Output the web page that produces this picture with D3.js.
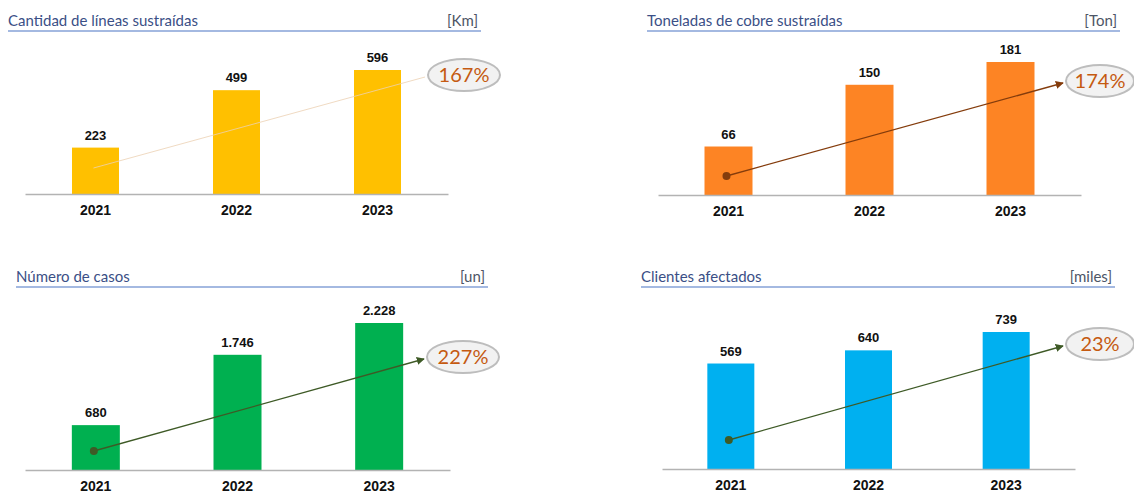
<!DOCTYPE html>
<html>
  <head>
    <meta charset="utf-8">
    <script src="https://d3js.org/d3.v7.min.js"></script>
    <style>
      body { margin: 0; background: white; }
      .title { font-family: Lato, "Open Sans", sans-serif; font-size: 15px; fill: #3b4f86; }
      .unit { font-family: Lato, "Open Sans", sans-serif; font-size: 15px; fill: #4d5566; }
      .val { font-family: "Liberation Sans", Arial, sans-serif; font-size: 13px; font-weight: bold; fill: #111; }
      .axis text { font-family: "Liberation Sans", Arial, sans-serif; font-size: 14px; font-weight: bold; fill: #111; }
      .pct { font-family: Lato, "Open Sans", sans-serif; font-size: 20px; fill: #c55a11; }
    </style>
  </head>
  <body>
    <script>
      // data
      var years = ["2021", "2022", "2023"];
      var titles = ["Cantidad de líneas sustraídas", "Toneladas de cobre sustraídas", "Número de casos", "Clientes afectados"];
      var units = ["[Km]", "[Ton]", "[un]", "[miles]"];
      var lineasKm = [223, 499, 596];
      var cobreTon = [66, 150, 181];
      var casosUn = [680, 1746, 2228];
      var clientesMiles = [569, 640, 739];
      var growth = ["167%", "174%", "227%", "23%"];
      var barColors = ["#ffc000", "#fd8424", "#00b050", "#00b0f0"];
      var arrowColors = ["#edd2b4", "#843c0c", "#3e5a26", "#3e5a26"];

      // layout of each small chart
      var layout = [
        {values: lineasKm, tx: 8, ty: 26, ul: [8, 481], x0: 25, x1: 448, base: 194, top: 70, bw: 47,
         ell: [464, 75, 36, 16], start: 26, arrow: false},
        {values: cobreTon, tx: 647, ty: 26, ul: [647, 1120], x0: 658, x1: 1081, base: 195, top: 62, bw: 48,
         ell: [1100, 81, 34, 16], start: 19, arrow: true},
        {values: casosUn, tx: 16, ty: 282, ul: [16, 488], x0: 25, x1: 450, base: 470, top: 323, bw: 48,
         ell: [463, 357, 36, 16], start: 19, arrow: true},
        {values: clientesMiles, tx: 641, ty: 282, ul: [641, 1115], x0: 662, x1: 1075, base: 469, top: 332, bw: 47,
         ell: [1100, 344, 34, 16], start: 29, arrow: true}
      ];

      var fmt = d3.formatLocale({decimal: ",", thousands: ".", grouping: [3], currency: ["$", ""]}).format(",d");

      var svg = d3.select("body").append("svg")
        .attr("width", 1134)
        .attr("height", 494);

      var defs = svg.append("defs");

      layout.forEach(function(p, i) {
        var g = svg.append("g");

        // title + underline
        g.append("text").attr("class", "title").attr("x", p.tx).attr("y", p.ty).text(titles[i]);
        g.append("text").attr("class", "unit").attr("x", p.ul[1] - 3).attr("y", p.ty)
          .attr("text-anchor", "end").text(units[i]);
        g.append("line")
          .attr("x1", p.ul[0]).attr("x2", p.ul[1])
          .attr("y1", p.ty + 5).attr("y2", p.ty + 5)
          .attr("stroke", "#4a74c4").attr("stroke-width", 1.2);

        var step = (p.x1 - p.x0) / years.length;
        var inner = 1 - p.bw / step;
        var x = d3.scaleBand().domain(years).range([p.x0, p.x1])
          .paddingInner(inner).paddingOuter(inner / 2);
        var y = d3.scaleLinear().domain([0, d3.max(p.values)]).range([p.base, p.top]);

        g.selectAll("rect.bar")
          .data(p.values)
          .enter().append("rect")
            .attr("class", "bar")
            .attr("x", function(d, j) { return x(years[j]); })
            .attr("y", function(d) { return y(d); })
            .attr("width", x.bandwidth())
            .attr("height", function(d) { return p.base - y(d); })
            .attr("fill", barColors[i]);

        g.selectAll("text.val")
          .data(p.values)
          .enter().append("text")
            .attr("class", "val")
            .attr("x", function(d, j) { return x(years[j]) + x.bandwidth() / 2; })
            .attr("y", function(d) { return y(d) - 8; })
            .attr("text-anchor", "middle")
            .text(function(d) { return fmt(d); });

        var axis = g.append("g")
          .attr("class", "axis")
          .attr("transform", "translate(0," + p.base + ")")
          .call(d3.axisBottom(x).tickSize(0).tickPadding(11));
        axis.select(".domain").attr("stroke", "#b3b3b3").attr("stroke-width", 1.5);

        // growth arrow
        var sx = x(years[0]) + x.bandwidth() / 2 - 2;
        var sy = p.base - p.start;
        var ex = p.ell[0] - p.ell[2] - 3;
        var ey = p.ell[1] + 2;
        var line = g.append("line")
          .attr("x1", sx).attr("y1", sy).attr("x2", ex).attr("y2", ey)
          .attr("stroke", arrowColors[i]);
        if (p.arrow) {
          defs.append("marker")
            .attr("id", "arr" + i)
            .attr("viewBox", "0 0 10 10")
            .attr("refX", 9).attr("refY", 5)
            .attr("markerWidth", 8).attr("markerHeight", 8)
            .attr("markerUnits", "userSpaceOnUse")
            .attr("orient", "auto")
          .append("path")
            .attr("d", "M0,0L10,5L0,10Z")
            .attr("fill", arrowColors[i]);
          line.attr("stroke-width", 1.3).attr("marker-end", "url(#arr" + i + ")");
          g.append("circle").attr("cx", sx).attr("cy", sy).attr("r", 4).attr("fill", arrowColors[i]);
        } else {
          line.attr("stroke-width", 1).attr("opacity", 0.8);
        }

        g.append("ellipse")
          .attr("cx", p.ell[0]).attr("cy", p.ell[1])
          .attr("rx", p.ell[2]).attr("ry", p.ell[3])
          .attr("fill", "#f2f2f2")
          .attr("stroke", "#bdbdbd")
          .attr("stroke-width", 2);
        g.append("text")
          .attr("class", "pct")
          .attr("x", p.ell[0]).attr("y", p.ell[1] + 7)
          .attr("text-anchor", "middle")
          .text(growth[i]);
      });
    </script>
  </body>
</html>
